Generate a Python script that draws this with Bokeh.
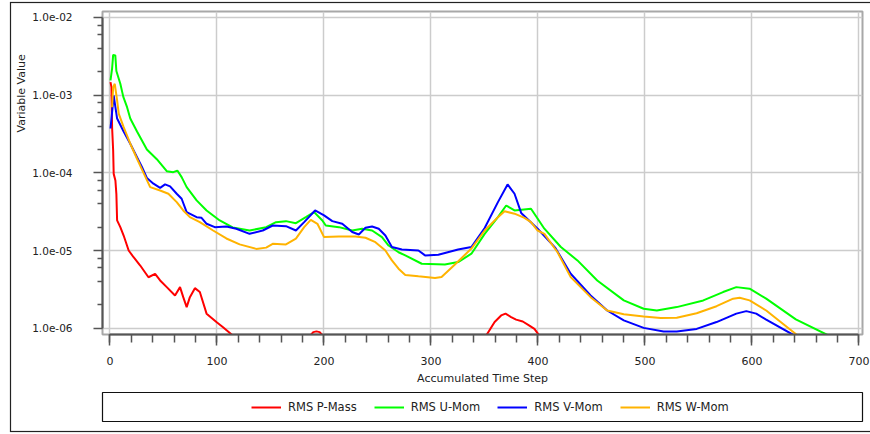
import math
from urllib.parse import quote
import numpy as np
from bokeh.plotting import figure
from bokeh.layouts import column
from bokeh.models import (FixedTicker, CustomJSTickFormatter, Legend, LegendItem,
                          Range1d, Title)
from bokeh.embed import file_html
from bokeh.resources import INLINE

# ---------------- data ----------------
step_p = [0.5, 1.4, 2.0, 3.0, 3.5, 5.1, 6.0, 6.7, 9.7, 12.8, 17.5, 22.1, 28.3, 36.0, 42.2,
          46.9, 53.1, 60.8, 65.5, 68.5, 71.7, 74.7, 79.4, 84.0, 90.3, 99.5, 105.7, 116.0,
          float("nan"),
          187, 190, 193, 196, 199,
          float("nan"),
          351, 359.5, 365.6, 369.7, 374.9, 379.6, 385.8, 392, 396.7, 402]
rms_p = [1.47e-3, 1.27e-3, 3.87e-4, 1.94e-4, 9.7e-5, 7.98e-5, 5.37e-5, 2.44e-5, 2.0e-5,
         1.56e-5, 1.0e-5, 8.2e-6, 6.41e-6, 4.53e-6, 5.02e-6, 4.12e-6, 3.38e-6, 2.64e-6,
         3.38e-6, 2.51e-6, 1.87e-6, 2.51e-6, 3.28e-6, 2.92e-6, 1.54e-6, 1.2e-6, 1.03e-6, 7.8e-7,
         float("nan"),
         8.0e-7, 8.9e-7, 9.1e-7, 8.9e-7, 8.0e-7,
         float("nan"),
         7.8e-7, 1.2e-6, 1.46e-6, 1.54e-6, 1.39e-6, 1.29e-6, 1.22e-6, 1.08e-6, 9.8e-7, 7.8e-7]

step_u = [0.5, 2.0, 3.0, 5.0, 6.0, 9.7, 12.5, 16, 19, 25.3, 34.5, 43.8, 53.1, 59.2, 63, 67,
          71.7, 81, 90.3, 102.6, 114.7, 130.5, 146, 155.2, 164.5, 173.8, 183.1, 190.8, 198.5,
          201.7, 214, 226.4, 235.7, 245, 254.2, 260.4, 269.7, 276, 291.4, 313, 325.4, 337.8,
          350.2, 362.6, 370.3, 378.1, 393.5, 406, 421.4, 436.9, 455.4, 480.2, 498.8, 511.1,
          529.7, 554.5, 573, 585.4, 597.8, 613.3, 641, 672]
rms_u = [1.55e-3, 2.2e-3, 3.3e-3, 3.25e-3, 2.05e-3, 1.4e-3, 9.5e-4, 7.0e-4, 5.0e-4, 3.4e-4,
         2.0e-4, 1.5e-4, 1.05e-4, 1.02e-4, 1.07e-4, 8.8e-5, 6.55e-5, 4.42e-5, 3.28e-5, 2.44e-5,
         1.98e-5, 1.81e-5, 2.0e-5, 2.32e-5, 2.39e-5, 2.25e-5, 2.69e-5, 3.12e-5, 2.44e-5, 2.1e-5,
         2.0e-5, 1.81e-5, 1.91e-5, 1.81e-5, 1.49e-5, 1.16e-5, 9.5e-6, 8.65e-6, 6.76e-6, 6.62e-6,
         7.1e-6, 9.1e-6, 1.64e-5, 2.69e-5, 3.8e-5, 3.28e-5, 3.45e-5, 1.91e-5, 1.11e-5, 7.46e-6,
         4.12e-6, 2.28e-6, 1.78e-6, 1.69e-6, 1.87e-6, 2.28e-6, 2.92e-6, 3.38e-6, 3.23e-6,
         2.4e-6, 1.3e-6, 8.0e-7]

step_v = [0.5, 2.0, 3.5, 5.1, 6.7, 12.8, 19.0, 25.3, 29.9, 34.5, 40.7, 46.9, 51.5, 56.2, 62.4,
          67.0, 71.7, 81.0, 85.6, 90.3, 98.0, 108.8, 118.1, 130.5, 142.8, 152.1, 164.5, 173.8,
          181.5, 191.7, 200.1, 207.8, 217.1, 226.4, 232.6, 238.8, 245, 251.2, 257.4, 263.5,
          272.8, 288.3, 294.5, 306.9, 325.4, 337.8, 350.2, 362.6, 371.6, 378.1, 384.3, 399.7,
          416.3, 430.6, 449.2, 464.7, 480.2, 498.8, 517.4, 529.7, 548.3, 566.9, 585.4, 594.7,
          604, 613.3, 640]
rms_v = [3.72e-4, 6.04e-4, 9.9e-4, 7.0e-4, 5.0e-4, 3.41e-4, 2.37e-4, 1.59e-4, 1.19e-4, 8.6e-5,
         7.25e-5, 6.4e-5, 7.1e-5, 6.69e-5, 5.38e-5, 4.64e-5, 3.12e-5, 2.69e-5, 2.64e-5, 2.21e-5,
         2.0e-5, 2.04e-5, 1.91e-5, 1.64e-5, 1.81e-5, 2.1e-5, 2.06e-5, 1.81e-5, 2.32e-5, 3.28e-5,
         2.83e-5, 2.39e-5, 2.21e-5, 1.73e-5, 1.61e-5, 1.96e-5, 2.04e-5, 1.91e-5, 1.56e-5,
         1.11e-5, 1.03e-5, 1.0e-5, 8.65e-6, 8.83e-6, 1.03e-5, 1.11e-5, 1.95e-5, 4.2e-5, 7.1e-5,
         5.38e-5, 3.05e-5, 1.91e-5, 1.08e-5, 5.02e-6, 2.64e-6, 1.69e-6, 1.26e-6, 1.01e-6,
         9.06e-7, 9.1e-7, 9.8e-7, 1.2e-6, 1.54e-6, 1.66e-6, 1.54e-6, 1.29e-6, 8.0e-7]

step_w = [2.0, 3.0, 4.5, 6.7, 8.2, 12.8, 19.0, 25.3, 31.4, 37.6, 46.9, 54.6, 62.4, 68.5, 74.7,
          84.0, 96.4, 108.8, 121.2, 136.7, 146, 152.1, 164.5, 173.8, 181.5, 187.7, 193.9, 200.1,
          214, 229.5, 238.8, 248.1, 257.4, 263.5, 269.7, 276, 288.3, 303.8, 309.9, 322.4, 337.8,
          350.2, 362.6, 368.8, 378.1, 387.4, 393.5, 399.7, 406, 418.3, 430.6, 449.2, 464.7,
          480.2, 498.8, 514.7, 529.7, 548.3, 566.9, 582.4, 588.5, 597.8, 613.3, 643]
rms_w = [7.0e-4, 1.27e-3, 1.4e-3, 8.55e-4, 5.77e-4, 3.87e-4, 2.37e-4, 1.52e-4, 9.97e-5, 6.55e-5,
         5.93e-5, 5.38e-5, 4.2e-5, 3.28e-5, 2.69e-5, 2.32e-5, 1.81e-5, 1.43e-5, 1.2e-5, 1.05e-5,
         1.09e-5, 1.22e-5, 1.2e-5, 1.42e-5, 2.0e-5, 2.48e-5, 2.21e-5, 1.49e-5, 1.52e-5, 1.52e-5,
         1.46e-5, 1.28e-5, 1.0e-5, 7.46e-6, 5.83e-6, 4.85e-6, 4.65e-6, 4.42e-6, 4.55e-6, 6.62e-6,
         1.06e-5, 1.81e-5, 2.69e-5, 3.2e-5, 2.98e-5, 2.63e-5, 2.32e-5, 1.81e-5, 1.64e-5, 9.5e-6,
         4.55e-6, 2.51e-6, 1.69e-6, 1.51e-6, 1.42e-6, 1.35e-6, 1.36e-6, 1.56e-6, 1.92e-6, 2.4e-6,
         2.47e-6, 2.28e-6, 1.69e-6, 8.0e-7]

series_names = ["RMS P-Mass", "RMS U-Mom", "RMS V-Mom", "RMS W-Mom"]
series_colors = ["#ff0000", "#00ff00", "#0000ff", "#ffb300"]

x_ticks = [0, 100, 200, 300, 400, 500, 600, 700]
x_minor = list(range(0, 701, 20))
y_ticks = [1e-6, 1e-5, 1e-4, 1e-3, 1e-2]
y_minor = [m * 10.0 ** k for k in range(-6, -2) for m in (2, 4, 6, 8)]

# ---------------- layout ----------------
W, H = 870, 434
H1 = 388                                    # main chart height, legend strip below
FL, FR, FT, FB = 102, 867, 11, 334          # plot frame edges (pixels)
X0, X1 = -6.96, 703.3
Y0, Y1 = 8.3e-7, 1.194e-2
FONT = "DejaVu Sans"
TXT = "#222222"

p = figure(width=W, height=H1, x_range=Range1d(X0, X1), y_range=Range1d(Y0, Y1),
           y_axis_type="log", output_backend="svg", toolbar_location=None,
           min_border_left=FL, min_border_right=W - FR,
           min_border_top=FT, min_border_bottom=H1 - FB)
p.title.visible = False
p.background_fill_color = "white"
p.border_fill_alpha = 0
p.outline_line_color = "#a8a8a8"
p.outline_line_width = 2

xa = p.xaxis[0]
xa.ticker = FixedTicker(ticks=x_ticks, minor_ticks=x_minor)
xa.bounds = (0, 700)
xa.axis_label = "Accumulated Time Step"
ya = p.yaxis[0]
ya.ticker = FixedTicker(ticks=y_ticks, minor_ticks=y_minor)
ya.bounds = (1e-6, 1e-2)
ya.formatter = CustomJSTickFormatter(code="""
const e = Math.round(Math.log10(tick));
const a = Math.abs(e);
return "1.0e" + (e < 0 ? "-" : "+") + (a < 10 ? "0" : "") + a;
""")
for ax in (xa, ya):
    ax.axis_line_color = "#555555"
    ax.axis_line_width = 2
    ax.major_tick_line_color = "#555555"
    ax.minor_tick_line_color = "#555555"
    ax.major_tick_line_width = 1.5
    ax.minor_tick_line_width = 1.5
    ax.major_tick_in = 0
    ax.minor_tick_in = 0
    ax.major_label_text_font = FONT
    ax.major_label_text_font_size = "11px"
    ax.major_label_text_color = TXT
    ax.axis_label_text_font = FONT
    ax.axis_label_text_font_size = "11px"
    ax.axis_label_text_font_style = "normal"
    ax.axis_label_text_color = TXT
xa.major_tick_out = 11
xa.minor_tick_out = 8
xa.major_label_standoff = 11
xa.axis_label_standoff = 4
ya.major_tick_out = 9
ya.minor_tick_out = 5
ya.major_label_standoff = 21
ya.major_label_text_font_size = "10.5px"

for g in (p.xgrid[0], p.ygrid[0]):
    g.grid_line_color = "#cccccc"
    g.grid_line_width = 1.5

for xs, ys, c in zip((step_p, step_u, step_v, step_w), (rms_p, rms_u, rms_v, rms_w), series_colors):
    p.line(np.array(xs, dtype=float), np.array(ys, dtype=float), line_color=c, line_width=2)

# y-axis title, placed toward the top like the reference
p.add_layout(Title(text="Variable Value", align="left", offset=202, standoff=3,
                   text_font=FONT, text_font_size="11px", text_font_style="normal",
                   text_color=TXT), "left")

# ---------------- legend strip (its frame is the legend box) ----------------
H2 = H - H1
LB_L, LB_R, LB_T, LB_B = 102, 862, 392 - H1, 421 - H1
q = figure(width=W, height=H2, x_range=Range1d(0, 1), y_range=Range1d(0, 1),
           x_axis_type=None, y_axis_type=None, output_backend="svg", toolbar_location=None,
           min_border_left=LB_L, min_border_right=W - LB_R,
           min_border_top=LB_T, min_border_bottom=H2 - LB_B)
q.title.visible = False
q.xgrid.visible = False
q.ygrid.visible = False
q.border_fill_alpha = 0
q.background_fill_color = "white"
q.outline_line_color = "#111111"
q.outline_line_width = 1.2
nan = float("nan")
legend_renderers = [q.line(x=[nan], y=[nan], line_color=c, line_width=2) for c in series_colors]
legend = Legend(items=[LegendItem(label=n, renderers=[r]) for n, r in zip(series_names, legend_renderers)],
                orientation="horizontal", location=(149, 7), padding=0, margin=0,
                glyph_width=30, glyph_height=14, label_height=14, label_standoff=7, spacing=17,
                border_line_alpha=0, background_fill_alpha=0,
                label_text_font=FONT, label_text_font_size="11.5px", label_text_color=TXT)
q.add_layout(legend, "center")

# outer frame of the whole panel, drawn as the layout background
svg = ("<svg xmlns='http://www.w3.org/2000/svg' width='870' height='434'>"
       "<rect x='10.5' y='2.5' width='900' height='429' fill='none' stroke='#222' stroke-width='1.2'/>"
       "</svg>")
layout = column(p, q, spacing=0,
                styles={"background-image": "url(\"data:image/svg+xml," + quote(svg) + "\")",
                        "background-repeat": "no-repeat",
                        "background-color": "white"})

open("out.html", "w").write(file_html(layout, INLINE))
